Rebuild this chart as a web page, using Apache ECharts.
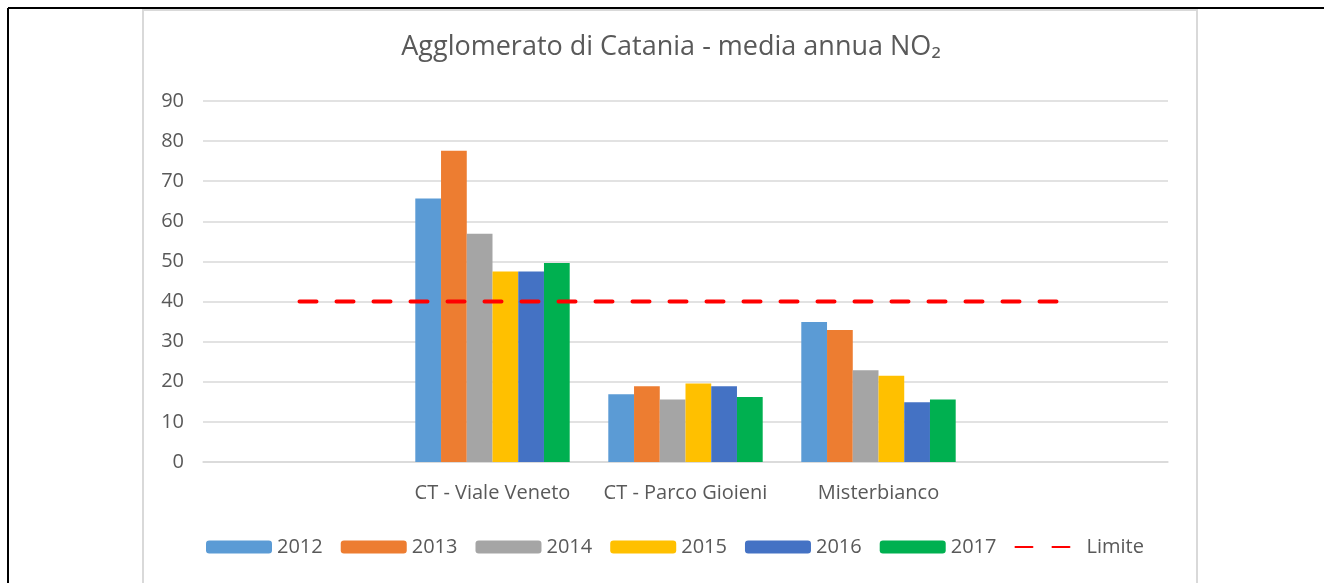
<!DOCTYPE html>
<html>
<head>
<meta charset="utf-8">
<script src="https://cdn.jsdelivr.net/npm/echarts@6/dist/echarts.min.js"></script>
<style>
  html, body, #main { margin: 0; padding: 0; width: 1324px; height: 583px; overflow: hidden; background: #fff; }
</style>
</head>
<body>
<div id="main"></div>
<script>
// categories (first and last empty, as in the original sheet)
var categories = ["", "CT - Viale Veneto", "CT - Parco Gioieni", "Misterbianco", ""];
var years = ["2012", "2013", "2014", "2015", "2016", "2017"];
var v2012 = [null, 65.7, 16.9, 34.9, null];
var v2013 = [null, 77.6, 18.9, 32.9, null];
var v2014 = [null, 56.9, 15.6, 22.9, null];
var v2015 = [null, 47.5, 19.6, 21.5, null];
var v2016 = [null, 47.5, 18.9, 14.9, null];
var v2017 = [null, 49.6, 16.2, 15.6, null];
var limite = [40, 40, 40, 40, 40];
var yTicks = [0, 10, 20, 30, 40, 50, 60, 70, 80, 90];

var colors = ["#5B9BD5", "#ED7D31", "#A5A5A5", "#FFC000", "#4472C4", "#00B050"];
var values = [v2012, v2013, v2014, v2015, v2016, v2017];
var font = "'Open Sans', sans-serif";

var myChart = echarts.init(document.getElementById("main"));

var _series = years.map(function (y, i) {
  return {
    name: y,
    type: "bar",
    barGap: 0,
    barCategoryGap: "20%",
    itemStyle: { color: colors[i] },
    data: values[i],
  };
});
_series.push({
  name: "Limite",
  type: "line",
  symbol: "none",
  itemStyle: { color: "#FF0000", opacity: 0 },
  lineStyle: { color: "#FF0000", width: 4, type: [17, 20], cap: "round" },
  data: limite,
});

var option = {
  animation: false,
  title: {
    text: "Agglomerato di Catania - media annua NO\u2082",
    left: 666,
    textAlign: "center",
    top: 29,
    textStyle: { color: "#595959", fontSize: 27, fontWeight: "normal", fontFamily: font },
  },
  legend: {
    bottom: 21,
    left: 201,
    itemWidth: 66,
    itemHeight: 13,
    itemGap: 18,
    textStyle: { color: "#595959", fontSize: 20, fontFamily: font },
    data: years.concat(["Limite"]),
  },
  grid: { left: 203, right: 156, top: 101, bottom: 121 },
  xAxis: {
    type: "category",
    data: categories,
    axisLine: { lineStyle: { color: "#D9D9D9", width: 1.5 } },
    axisTick: { show: false },
    axisLabel: { color: "#595959", fontSize: 20, fontFamily: font, margin: 21, interval: 0 },
  },
  yAxis: {
    type: "value",
    min: yTicks[0],
    max: yTicks[yTicks.length - 1],
    interval: 10,
    axisLine: { show: false },
    axisTick: { show: false },
    axisLabel: { color: "#595959", fontSize: 20, fontFamily: font, margin: 19 },
    splitLine: { lineStyle: { color: "#D9D9D9", width: 1.5 } },
  },
  graphic: [
    { type: "rect", shape: { x: 143, y: 10, width: 1054, height: 600 }, style: { fill: null, stroke: "#D9D9D9", lineWidth: 2 }, z: -1 },
    { type: "line", shape: { x1: 8, y1: 8, x2: 1324, y2: 8 }, style: { stroke: "#000", lineWidth: 2 } },
    { type: "line", shape: { x1: 8, y1: 8, x2: 8, y2: 583 }, style: { stroke: "#000", lineWidth: 2 } },
  ],
  series: _series,
};
myChart.setOption(option);
window.onresize = myChart.resize;
</script>
</body>
</html>
